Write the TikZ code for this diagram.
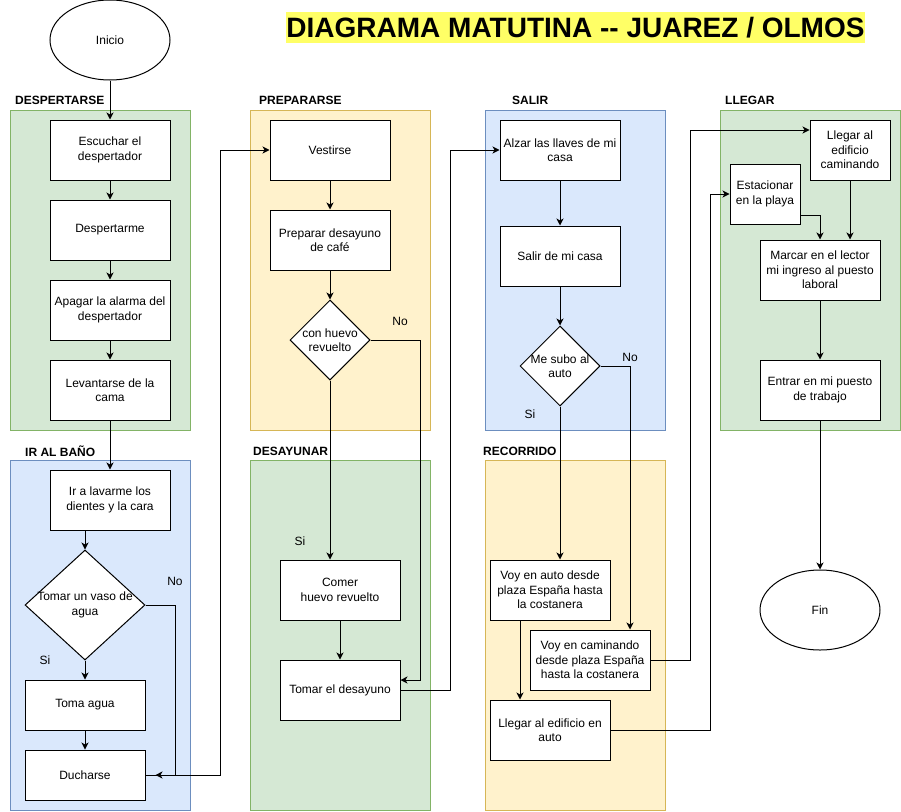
\documentclass[tikz,border=0pt]{standalone}
\usepackage{fontspec}
\setmainfont{Liberation Sans}
\usetikzlibrary{shapes.geometric,arrows.meta}

\definecolor{grfill}{HTML}{D5E8D4}
\definecolor{grline}{HTML}{82B366}
\definecolor{blfill}{HTML}{DAE8FC}
\definecolor{blline}{HTML}{6C8EBF}
\definecolor{yefill}{HTML}{FFF2CC}
\definecolor{yeline}{HTML}{D6B656}
\definecolor{titlebg}{HTML}{FFFF66}

\begin{document}
\begin{tikzpicture}[x=1pt,y=-1pt,
    font=\fontsize{12}{14.4}\selectfont,
    proc/.style={draw, fill=white, line width=1pt, inner sep=0pt, minimum width=120pt, minimum height=60pt, align=center},
    term/.style={draw, fill=white, ellipse, line width=1pt, inner sep=0pt, minimum width=120pt, minimum height=80pt},
    deci/.style={draw, fill=white, diamond, line width=1pt, inner sep=0pt},
    grbox/.style={fill=grfill, draw=grline, line width=1pt},
    blbox/.style={fill=blfill, draw=blline, line width=1pt},
    yebox/.style={fill=yefill, draw=yeline, line width=1pt},
    sect/.style={font=\fontsize{12}{14.4}\bfseries, anchor=west, inner sep=0pt},
    flow/.style={line width=1pt, -{Stealth[length=7pt,width=7pt,inset=2pt]}}
]
    \useasboundingbox (0,0) rectangle (901,811);

    % Title
    \node[fill=titlebg, font=\fontsize{28}{30}\bfseries, inner sep=0pt, minimum width=579pt, minimum height=31pt] (titulo) at (575.5,27.5) {DIAGRAMA MATUTINA {-}{-} JUAREZ / OLMOS};

    % Containers
    \draw[grbox] (10,110) rectangle (190,430);
    \draw[yebox] (250,110) rectangle (430,430);
    \draw[blbox] (485,110) rectangle (665,430);
    \draw[grbox] (720,110) rectangle (900,430);
    \draw[blbox] (10,460) rectangle (190,810);
    \draw[grbox] (250,460) rectangle (430,810);
    \draw[yebox] (485,460) rectangle (665,810);

    \node[sect] (sdesp) at (15,100) {DESPERTARSE};
    \node[sect] (sprep) at (259,100) {PREPARARSE};
    \node[sect] (ssal) at (512,100) {SALIR};
    \node[sect] (slleg) at (725,100) {LLEGAR};
    \node[sect] (sbano) at (25,451) {IR AL BAÑO};
    \node[sect] (sdesa) at (253,451) {DESAYUNAR};
    \node[sect] (sreco) at (483,451) {RECORRIDO};

    % Despertarse
    \node[term] (ini) at (110,40) {Inicio};
    \node[proc] (esc) at (110,150) {Escuchar el\\despertador};
    \node[proc] (desp) at (110,230) {Despertarme};
    \node[proc] (apag) at (110,310) {Apagar la alarma del\\despertador};
    \node[proc] (lev) at (110,390) {Levantarse de la\\cama};

    % Ir al baño
    \node[proc] (lav) at (110,500) {Ir a lavarme los\\dientes y la cara};
    \node[deci, minimum width=120pt, minimum height=110pt,
        label={[align=center]center:Tomar un vaso de\\agua}] (vaso) at (85,605) {};
    \node[proc, minimum height=50pt] (toma) at (85,705) {Toma agua};
    \node[proc, minimum height=50pt] (duch) at (85,775) {Ducharse};
    \node (nvaso) at (175,581) {No};
    \node (svaso) at (45,660) {Si};

    % Prepararse
    \node[proc] (vest) at (330,150) {Vestirse};
    \node[proc] (prep) at (330,240) {Preparar desayuno\\de café};
    \node[deci, minimum width=80pt, minimum height=80pt,
        label={[align=center]center:con huevo\\revuelto}] (huevo) at (330,340) {};
    \node (nhuevo) at (400,321) {No};
    \node (shuevo) at (300,541) {Si};

    % Desayunar
    \node[proc] (comer) at (340,590) {Comer\\huevo revuelto};
    \node[proc] (tomar) at (340,690) {Tomar el desayuno};

    % Salir
    \node[proc] (alzar) at (560,150) {Alzar las llaves de mi\\casa};
    \node[proc] (salir) at (560,256) {Salir de mi casa};
    \node[deci, minimum width=80pt, minimum height=80pt,
        label={[align=center]center:Me subo al\\auto}] (subo) at (560,366) {};
    \node (nsubo) at (630,357) {No};
    \node (ssubo) at (530,414) {Si};

    % Recorrido
    \node[proc] (auto) at (550,590) {Voy en auto desde\\plaza España hasta\\la costanera};
    \node[proc] (cam) at (590,660) {Voy en caminando\\desde plaza España\\hasta la costanera};
    \node[proc] (edif) at (550,730) {Llegar al edificio en\\auto};

    % Llegar
    \node[proc, minimum width=80pt] (llcam) at (850,150) {Llegar al\\edificio\\caminando};
    \node[proc, minimum width=70pt] (est) at (765,194) {Estacionar\\en la playa};
    \node[proc] (marc) at (820,270) {Marcar en el lector\\mi ingreso al puesto\\laboral};
    \node[proc] (entrar) at (820,390) {Entrar en mi puesto\\de trabajo};
    \node[term] (fin) at (820,610) {Fin};

    % Connectors
    \draw[flow] (ini) -- (esc);
    \draw[flow] (esc) -- (desp);
    \draw[flow] (desp) -- (apag);
    \draw[flow] (apag) -- (lev);
    \draw[flow] (lev) -- (lav);
    \draw[flow] (lav.south -| vaso.north) -- (vaso.north);
    \draw[flow] (vaso) -- (toma);
    \draw[flow] (toma) -- (duch);
    \draw[flow] (vaso.east) -- ++(30,0) |- ([xshift=10pt]duch.east);
    \draw[flow] (duch.east) -- ++(75,0) |- (vest.west);

    \draw[flow] (vest) -- (prep);
    \draw[flow] (prep) -- (huevo);
    \draw[flow] (huevo.east) -- ++(50,0) |- ([yshift=10pt]tomar.east);
    \draw[flow] (huevo.south) -- (comer.north -| huevo.south);
    \draw[flow] (comer) -- (tomar);
    \draw[flow] (tomar.east) -- ++(50,0) |- (alzar.west);

    \draw[flow] (alzar) -- (salir);
    \draw[flow] (salir) -- (subo);
    \draw[flow] (subo.east) -| ([xshift=40pt]cam.north);
    \draw[flow] (subo.south) -- (auto.north -| subo.south);
    \draw[flow] ([xshift=-30pt]auto.south) -- ([xshift=-30pt]edif.north);
    \draw[flow] (cam.east) -- ++(40,0) |- ([yshift=20pt]llcam.west);
    \draw[flow] (edif.east) -- ++(100,0) |- (est.west);

    \draw[flow] ([yshift=-21pt]est.east) -| (marc.north);
    \draw[flow] (llcam.south) -- (marc.north -| llcam.south);
    \draw[flow] (marc) -- (entrar);
    \draw[flow] (entrar) -- (fin);
\end{tikzpicture}
\end{document}
